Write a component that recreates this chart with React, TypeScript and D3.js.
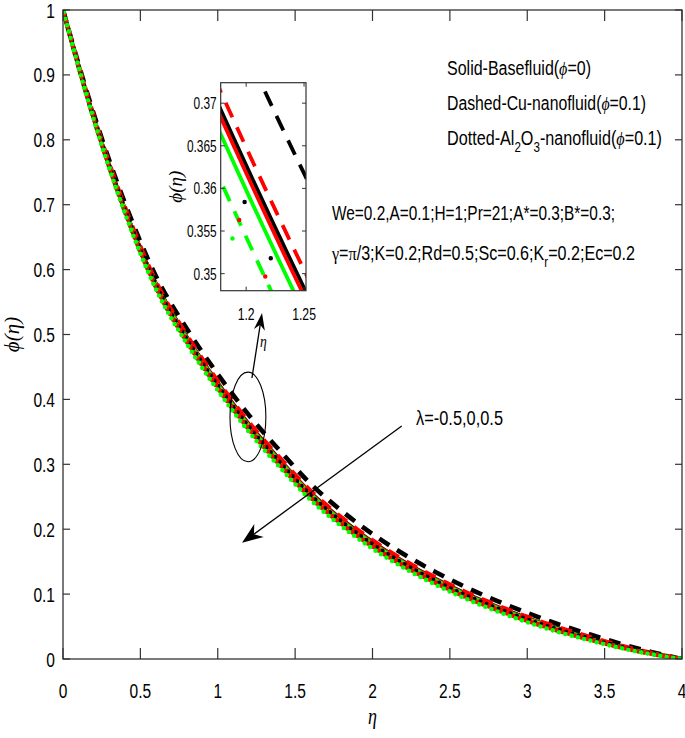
import React from 'react';
import * as d3 from 'd3';

// eta grid
const eta = [0, 0.2, 0.4, 0.6, 0.8, 1.0, 1.2, 1.4, 1.6, 1.8, 2.0, 2.2, 2.4, 2.6, 2.8, 3.0, 3.2, 3.4, 3.6, 3.8, 4.0];

// black: lambda=-0.5, red: lambda=0, green: lambda=0.5
// solid - base fluid (phi=0)
const baseNeg = [1, 0.8343, 0.6945, 0.5797, 0.4968, 0.4259, 0.3627, 0.3079, 0.2569, 0.2158, 0.1808, 0.1507, 0.1247, 0.1016, 0.0816, 0.0635, 0.0474, 0.0333, 0.0202, 0.0091, 0];
const baseZero = [1, 0.834, 0.694, 0.579, 0.496, 0.425, 0.3618, 0.307, 0.256, 0.215, 0.18, 0.15, 0.124, 0.101, 0.081, 0.063, 0.047, 0.033, 0.02, 0.009, 0];
const basePos = [1, 0.8333, 0.6928, 0.5774, 0.4942, 0.4231, 0.3598, 0.305, 0.2541, 0.2131, 0.1782, 0.1484, 0.1225, 0.0996, 0.0797, 0.0619, 0.0461, 0.0323, 0.0195, 0.0087, 0];
// dashed - Cu nanofluid (phi=0.1)
const cuNeg = [1, 0.839, 0.7026, 0.5902, 0.5089, 0.4389, 0.3761, 0.3213, 0.2699, 0.2283, 0.1926, 0.1617, 0.1349, 0.111, 0.09, 0.071, 0.0537, 0.0383, 0.0237, 0.0109, 0];
const cuZero = [1, 0.835, 0.6958, 0.5813, 0.4987, 0.4279, 0.3648, 0.31, 0.2589, 0.2178, 0.1826, 0.1525, 0.1263, 0.1031, 0.0829, 0.0647, 0.0484, 0.0341, 0.0208, 0.0094, 0];
const cuPos = [1, 0.8314, 0.6895, 0.5731, 0.4892, 0.4177, 0.3543, 0.2995, 0.2487, 0.208, 0.1734, 0.1438, 0.1183, 0.0957, 0.0763, 0.0588, 0.0435, 0.0302, 0.018, 0.008, 0];
// dotted - Al2O3 nanofluid (phi=0.1)
const alNeg = [1, 0.8327, 0.6917, 0.576, 0.4926, 0.4213, 0.358, 0.3032, 0.2523, 0.2115, 0.1767, 0.1469, 0.1211, 0.0983, 0.0786, 0.0609, 0.0452, 0.0316, 0.019, 0.0085, 0];
const alZero = [1, 0.8314, 0.6896, 0.5733, 0.4894, 0.4179, 0.3545, 0.2997, 0.2489, 0.2082, 0.1736, 0.144, 0.1185, 0.0959, 0.0764, 0.0589, 0.0436, 0.0303, 0.0181, 0.0081, 0];
const alPos = [1, 0.8301, 0.6873, 0.5703, 0.4859, 0.4141, 0.3506, 0.2958, 0.2451, 0.2046, 0.1701, 0.1408, 0.1155, 0.0932, 0.0739, 0.0567, 0.0417, 0.0289, 0.0171, 0.0075, 0];

const xTicks = [0, 0.5, 1, 1.5, 2, 2.5, 3, 3.5, 4];
const yTicks = [0, 0.1, 0.2, 0.3, 0.4, 0.5, 0.6, 0.7, 0.8, 0.9, 1];
const insetXTicks = [1.2, 1.25];
const insetYTicks = [0.35, 0.355, 0.36, 0.365, 0.37];

const W = 685;
const H = 738;
const sans = '"Liberation Sans", Arial, sans-serif';
const serif = '"Liberation Serif", "Times New Roman", serif';

type Kind = 'solid' | 'dashed' | 'dotted';
const series: { values: number[]; color: string; kind: Kind; offset: number }[] = [
  { values: baseNeg, color: '#000000', kind: 'solid', offset: 0 },
  { values: baseZero, color: '#ff0000', kind: 'solid', offset: 0 },
  { values: basePos, color: '#00ff00', kind: 'solid', offset: 0 },
  { values: cuNeg, color: '#000000', kind: 'dashed', offset: 0 },
  { values: cuZero, color: '#ff0000', kind: 'dashed', offset: 4 },
  { values: cuPos, color: '#00ff00', kind: 'dashed', offset: 8 },
  { values: alNeg, color: '#000000', kind: 'dotted', offset: 0 },
  { values: alZero, color: '#ff0000', kind: 'dotted', offset: 2 },
  { values: alPos, color: '#00ff00', kind: 'dotted', offset: 4 },
];

function arrowPath(x1: number, y1: number, x2: number, y2: number, len: number, hw: number) {
  const dx = x2 - x1;
  const dy = y2 - y1;
  const d = Math.hypot(dx, dy);
  const ux = dx / d;
  const uy = dy / d;
  const nx = -uy;
  const ny = ux;
  const bx = x2 - ux * len;
  const by = y2 - uy * len;
  const mx = x2 - ux * len * 0.7;
  const my = y2 - uy * len * 0.7;
  return {
    head: `M${x2},${y2}L${bx + nx * hw},${by + ny * hw}L${mx},${my}L${bx - nx * hw},${by - ny * hw}Z`,
    shaft: `M${x1},${y1}L${mx},${my}`,
  };
}

export default function App() {
  const x = d3.scaleLinear().domain([0, 4]).range([63, 682]);
  const y = d3.scaleLinear().domain([0, 1]).range([659, 10]);

  const ix = d3.scaleLinear().domain([1.178, 1.2517]).range([220.7, 306]);
  const iy = d3.scaleLinear().domain([0.348, 0.3724]).range([290.7, 82.7]);

  const mainLine = d3
    .line<number>()
    .x((_, i) => x(eta[i]))
    .y((d) => y(d))
    .curve(d3.curveMonotoneX);
  const insetLine = d3
    .line<number>()
    .x((_, i) => ix(eta[i]))
    .y((d) => iy(d))
    .curve(d3.curveMonotoneX);

  const styleFor = (kind: Kind, inset: boolean) => {
    if (kind === 'solid') return { width: inset ? 3.8 : 3.4, dash: undefined, cap: 'butt' as const };
    if (kind === 'dashed') return { width: inset ? 3.8 : 4.6, dash: inset ? '16 11' : '12 9', cap: 'butt' as const };
    return { width: inset ? 4.5 : 4.6, dash: inset ? '0 62' : '0 6.5', cap: 'round' as const };
  };

  // annotations in data units
  const ell = { cx: x(1.195), cy: y(0.373), rx: x(1.311) - x(1.195), ry: y(0.373) - y(0.442) };
  const small = arrowPath(x(1.221), y(0.433), x(1.286), y(0.533), 17, 5.5);
  const big = arrowPath(x(2.189), y(0.359), x(1.157), y(0.179), 21, 8);

  const [x0, x1] = x.range();
  const [y0, y1] = y.range();
  const [ix0, ix1] = ix.range();
  const [iy0, iy1] = iy.range();
  const axisColor = '#333';

  return (
    <svg width={W} height={H} style={{ position: 'absolute', left: 0, top: 0, background: '#fff' }}>
      <defs>
        <clipPath id="plot">
          <rect x={x0} y={y1} width={x1 - x0} height={y0 - y1} />
        </clipPath>
        <clipPath id="inset">
          <rect x={ix0} y={iy1} width={ix1 - ix0} height={iy0 - iy1} />
        </clipPath>
      </defs>
      <rect width={W} height={H} fill="#fff" />

      {/* curves */}
      <g clipPath="url(#plot)" fill="none">
        {series.map((s, i) => {
          const st = styleFor(s.kind, false);
          return (
            <path
              key={i}
              d={mainLine(s.values) ?? ''}
              stroke={s.color}
              strokeWidth={st.width}
              strokeDasharray={st.dash}
              strokeDashoffset={s.offset}
              strokeLinecap={st.cap}
            />
          );
        })}
      </g>

      {/* main axes box */}
      <rect x={x0} y={y1} width={x1 - x0} height={y0 - y1} fill="none" stroke={axisColor} strokeWidth={1.3} />
      {xTicks.map((t) => (
        <g key={`xt${t}`}>
          <line x1={x(t)} x2={x(t)} y1={y0} y2={y0 - 11} stroke={axisColor} strokeWidth={1.2} />
          <line x1={x(t)} x2={x(t)} y1={y1} y2={y1 + 11} stroke={axisColor} strokeWidth={1.2} />
          <text
            transform={`translate(${x(t)},${y0 + 39}) scale(0.74,1)`}
            textAnchor="middle"
            fontFamily={sans}
            fontSize={21}
          >
            {String(t)}
          </text>
        </g>
      ))}
      {yTicks.map((t) => (
        <g key={`yt${t}`}>
          <line x1={x0} x2={x0 + 7} y1={y(t)} y2={y(t)} stroke={axisColor} strokeWidth={1.2} />
          <line x1={x1} x2={x1 - 7} y1={y(t)} y2={y(t)} stroke={axisColor} strokeWidth={1.2} />
          <text
            transform={`translate(${x0 - 8},${y(t) + 7.5}) scale(0.74,1)`}
            textAnchor="end"
            fontFamily={sans}
            fontSize={21}
          >
            {String(t)}
          </text>
        </g>
      ))}

      {/* axis labels */}
      <text
        transform={`translate(${(x0 + x1) / 2},${H - 14}) scale(0.75,1)`}
        textAnchor="middle"
        fontFamily={serif}
        fontStyle="italic"
        fontSize={24}
      >
        η
      </text>
      <text
        transform={`translate(19,${(y0 + y1) / 2}) rotate(-90)`}
        textAnchor="middle"
        fontFamily={serif}
        fontStyle="italic"
        fontSize={21}
      >
        ϕ(η)
      </text>

      {/* inset */}
      <rect x={ix0} y={iy1} width={ix1 - ix0} height={iy0 - iy1} fill="#fff" />
      <g clipPath="url(#inset)" fill="none">
        {series.map((s, i) => {
          const st = styleFor(s.kind, true);
          return (
            <path
              key={i}
              d={insetLine(s.values) ?? ''}
              stroke={s.color}
              strokeWidth={st.width}
              strokeDasharray={st.dash}
              strokeDashoffset={s.kind === 'dotted' ? 40 - s.offset * 8 : 0}
              strokeLinecap={st.cap}
            />
          );
        })}
      </g>
      <rect x={ix0} y={iy1} width={ix1 - ix0} height={iy0 - iy1} fill="none" stroke={axisColor} strokeWidth={1.2} />
      {insetXTicks.map((t) => (
        <g key={`ixt${t}`}>
          <line x1={ix(t)} x2={ix(t)} y1={iy0} y2={iy0 - 4} stroke={axisColor} />
          <line x1={ix(t)} x2={ix(t)} y1={iy1} y2={iy1 + 4} stroke={axisColor} />
          <text
            transform={`translate(${ix(t)},${iy0 + 29}) scale(0.72,1)`}
            textAnchor="middle"
            fontFamily={sans}
            fontSize={17}
          >
            {String(t)}
          </text>
        </g>
      ))}
      {insetYTicks.map((t) => (
        <g key={`iyt${t}`}>
          <line x1={ix0} x2={ix0 + 4} y1={iy(t)} y2={iy(t)} stroke={axisColor} />
          <line x1={ix1} x2={ix1 - 4} y1={iy(t)} y2={iy(t)} stroke={axisColor} />
          <text
            transform={`translate(${ix0 - 4},${iy(t) + 6}) scale(0.7,1)`}
            textAnchor="end"
            fontFamily={sans}
            fontSize={17}
          >
            {String(t)}
          </text>
        </g>
      ))}
      <text
        transform={`translate(182,${(iy0 + iy1) / 2}) rotate(-90)`}
        textAnchor="middle"
        fontFamily={serif}
        fontStyle="italic"
        fontSize={19}
      >
        ϕ(η)
      </text>
      <text
        transform={`translate(${(ix0 + ix1) / 2},347) scale(0.8,1)`}
        textAnchor="middle"
        fontFamily={serif}
        fontStyle="italic"
        fontSize={17}
      >
        η
      </text>

      {/* annotations */}
      <ellipse cx={ell.cx} cy={ell.cy} rx={ell.rx} ry={ell.ry} fill="none" stroke="#000" strokeWidth={1.1} />
      <path d={small.shaft} stroke="#000" strokeWidth={1.3} fill="none" />
      <path d={small.head} fill="#000" />
      <path d={big.shaft} stroke="#000" strokeWidth={1.3} fill="none" />
      <path d={big.head} fill="#000" />

      {/* legend text */}
      <g fontFamily={sans} fontSize={19.5}>
        <text x={447} y={75} textLength={144} lengthAdjust="spacingAndGlyphs">
          Solid-Basefluid(<tspan fontFamily={serif} fontStyle="italic">ϕ</tspan>=0)
        </text>
        <text x={447} y={110} textLength={199} lengthAdjust="spacingAndGlyphs">
          Dashed-Cu-nanofluid(<tspan fontFamily={serif} fontStyle="italic">ϕ</tspan>=0.1)
        </text>
        <text x={447} y={145} textLength={215} lengthAdjust="spacingAndGlyphs">
          Dotted-Al
          <tspan dy={7} fontSize={14}>2</tspan>
          <tspan dy={-7}>O</tspan>
          <tspan dy={7} fontSize={14}>3</tspan>
          <tspan dy={-7}>-nanofluid(</tspan>
          <tspan fontFamily={serif} fontStyle="italic">ϕ</tspan>=0.1)
        </text>
        <text x={332} y={220} textLength={283} lengthAdjust="spacingAndGlyphs">
          We=0.2,A=0.1;H=1;Pr=21;A*=0.3;B*=0.3;
        </text>
        <text x={332} y={260} textLength={303} lengthAdjust="spacingAndGlyphs">
          <tspan fontFamily={serif}>γ</tspan>=<tspan fontFamily={serif}>π</tspan>/3;K=0.2;Rd=0.5;Sc=0.6;K
          <tspan dy={7} fontSize={14}>r</tspan>
          <tspan dy={-7}>=0.2;Ec=0.2</tspan>
        </text>
        <text x={416} y={425} textLength={87} lengthAdjust="spacingAndGlyphs" fontSize={20.5}>
          λ=-0.5,0,0.5
        </text>
      </g>
    </svg>
  );
}
